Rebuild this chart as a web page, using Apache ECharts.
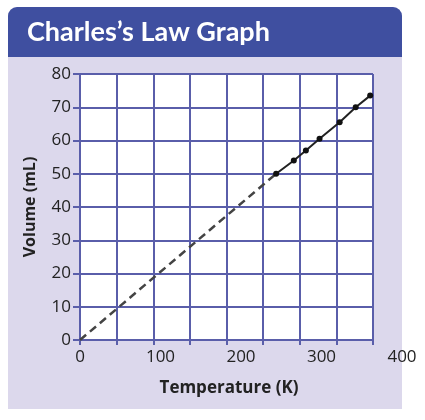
<!DOCTYPE html>
<html><head><meta charset="utf-8">
<script src="https://cdn.jsdelivr.net/npm/echarts@6/dist/echarts.min.js"></script>
<style>html,body{margin:0;padding:0;background:#fff}#c{width:425px;height:420px}</style>
</head><body><div id="c"></div>
<script>
var titleText = "Charles\u2019s Law Graph";
var xName = "Temperature (K)";
var yName = "Volume (mL)";
var xTickLabels = [0, 100, 200, 300, 400];
var yTickLabels = [0, 10, 20, 30, 40, 50, 60, 70, 80];
// measured points (Temperature K, Volume mL)
var temps = [244, 266, 281, 298, 323, 343, 361];
var volumes = [50, 54, 57, 60.5, 65.5, 70, 73.5];
// extrapolated dashed line to absolute zero
var extrapT = [0, 244];
var extrapV = [0, 50];

var measured = temps.map(function (t, i) { return [t, volumes[i]]; });
var extrap = extrapT.map(function (t, i) { return [t, extrapV[i]]; });

var gridColor = '#5a5eaa';
var xMaxGrid = 364.5;
var chart = echarts.init(document.getElementById('c'));
chart.setOption({
  backgroundColor: '#ffffff',
  animation: false,
  graphic: [
    { type: 'rect', z: -10, shape: { x: 8, y: 7, width: 394, height: 402, r: [9, 9, 0, 0] }, style: { fill: '#dcd8ec' } },
    { type: 'rect', z: -9, shape: { x: 8, y: 7, width: 394, height: 50, r: [9, 9, 0, 0] }, style: { fill: '#3f4fa0' } }
  ],
  title: {
    text: titleText, left: 22, top: 14,
    textStyle: { color: '#ffffff', fontFamily: 'Lato', fontWeight: 'bold', fontSize: 27 }
  },
  grid: [
    { left: 80, right: 52, top: 74, bottom: 80, show: true, backgroundColor: '#ffffff', borderWidth: 0 },
    { left: 80, right: 23, top: 74, bottom: 80 }
  ],
  xAxis: [
    { type: 'value', gridIndex: 0, min: 0, max: xMaxGrid, interval: xMaxGrid / 8,
      axisLine: { show: true, onZero: false, lineStyle: { color: gridColor, width: 2 } },
      axisTick: { show: true, length: 5, lineStyle: { color: gridColor, width: 2 } },
      axisLabel: { show: false },
      splitLine: { show: true, lineStyle: { color: gridColor, width: 2 } } },
    { type: 'value', gridIndex: 1, min: 0, max: 400, interval: 100,
      axisLine: { show: false }, axisTick: { show: false }, splitLine: { show: false },
      axisLabel: { show: true, margin: 9, color: '#222', fontFamily: 'Open Sans', fontSize: 17,
        formatter: function (v) { return xTickLabels.indexOf(v) >= 0 ? String(v) : ''; } },
      name: xName, nameLocation: 'middle', nameGap: 40,
      nameTextStyle: { color: '#222', fontFamily: 'Open Sans', fontWeight: 'bold', fontSize: 17, padding: [0, 24, 0, 0] } }
  ],
  yAxis: [
    { type: 'value', gridIndex: 0, min: 0, max: 80, interval: 10,
      axisLine: { show: true, onZero: false, lineStyle: { color: gridColor, width: 2 } },
      axisTick: { show: true, length: 7, lineStyle: { color: gridColor, width: 2 } },
      axisLabel: { show: true, margin: 9, color: '#222', fontFamily: 'Open Sans', fontSize: 17,
        formatter: function (v) { return yTickLabels.indexOf(v) >= 0 ? String(v) : ''; } },
      splitLine: { show: true, lineStyle: { color: gridColor, width: 2 } },
      name: yName, nameLocation: 'middle', nameGap: 42, nameRotate: 90,
      nameTextStyle: { color: '#222', fontFamily: 'Open Sans', fontWeight: 'bold', fontSize: 16, padding: [0, 0, 0, 0] } },
    { type: 'value', gridIndex: 1, min: 0, max: 80, show: false }
  ],
  series: [
    { type: 'line', xAxisIndex: 0, yAxisIndex: 0, data: extrap, showSymbol: false, symbol: 'none',
      lineStyle: { color: '#444', width: 2.5, type: [8, 5] }, z: 5 },
    { type: 'line', xAxisIndex: 0, yAxisIndex: 0, data: measured, symbol: 'circle', symbolSize: 6,
      itemStyle: { color: '#111' }, lineStyle: { color: '#222', width: 2 }, z: 6 }
  ]
});
</script></body></html>
